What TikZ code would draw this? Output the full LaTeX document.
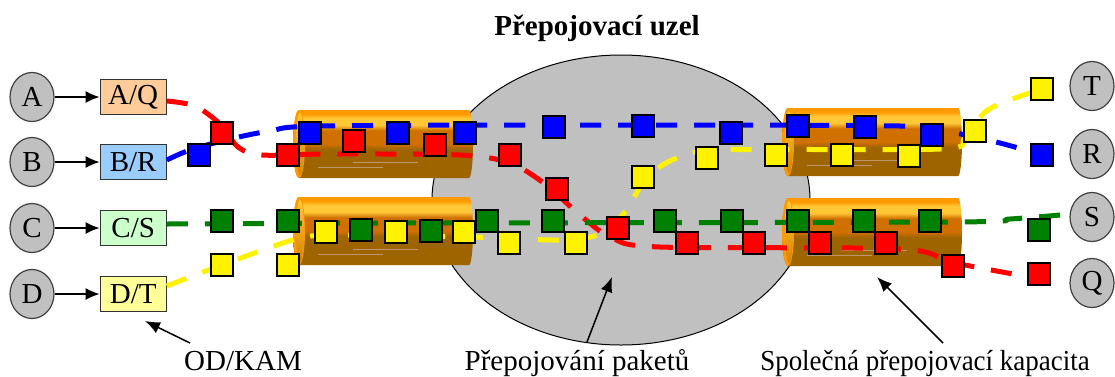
\documentclass[tikz,border=0pt]{standalone}
\usepackage{fontspec}
\setmainfont{Liberation Serif}
\usetikzlibrary{positioning, arrows.meta, shapes.geometric}

\definecolor{endgray}{RGB}{192,192,192}
\definecolor{portA}{RGB}{255,204,153}
\definecolor{portB}{RGB}{153,204,255}
\definecolor{portC}{RGB}{204,255,204}
\definecolor{portD}{RGB}{255,255,153}
\definecolor{pktgreen}{RGB}{0,128,0}
\definecolor{tubeTop}{RGB}{255,153,0}
\definecolor{tubeLight}{RGB}{255,200,55}
\definecolor{tubeMid}{RGB}{208,112,0}
\definecolor{tubeBrown}{RGB}{158,100,0}
\definecolor{tubeStreak}{RGB}{190,150,110}

% bands of the trunk cylinders, bottom to top
\pgfdeclareverticalshading{tube}{100bp}{color(0bp)=(tubeBrown); color(25bp)=(tubeBrown);
  color(46bp)=(tubeBrown); color(50bp)=(tubeMid); color(60bp)=(tubeMid);
  color(64bp)=(tubeLight); color(69bp)=(tubeLight); color(72bp)=(tubeTop); color(100bp)=(tubeTop)}

\begin{document}
\begin{tikzpicture}[
            x=1pt, y=-1pt,
            font=\fontsize{29}{31}\selectfont,
            endpt/.style = {ellipse, draw=black!75, line width=1.2pt, fill=endgray, minimum width=44pt, minimum height=49pt, inner sep=0pt},
            port/.style = {rectangle, draw=black!80, line width=1.2pt, minimum width=66pt, minimum height=35pt, inner sep=0pt},
            pkt/.style = {rectangle, draw=black, line width=1.3pt, minimum size=22pt, inner sep=0pt},
            flow/.style = {line width=5pt, dash pattern=on 21pt off 17pt},
            feed/.style = {-{Latex[length=14pt,width=12pt]}, line width=1.5pt},
            pointer/.style = {-{Latex[length=15pt,width=12pt]}, line width=1.5pt},
            streak/.style = {tubeStreak, line width=0.6pt}
        ]
            \useasboundingbox (0,0) rectangle (1115,376);

            % --- switch core ---
            \node [ellipse, draw, line width=1pt, fill=endgray, minimum width=378pt, minimum height=290pt, inner sep=0pt] (switch) at (621,200) {};
            \node [font=\bfseries\fontsize{29}{31}\selectfont, anchor=base] (title) at (597,35) {Přepojovací uzel};

            % --- trunk cylinders ---
            \foreach \xa/\ya in {293/110, 293/197, 782/108, 782/198} {
                \shade [shading=tube] (\xa+6,\ya) -- (\xa+176,\ya) arc[start angle=90, end angle=-90, x radius=4pt, y radius=34pt]
                    -- (\xa+6,\ya+68) arc[start angle=270, end angle=90, x radius=6pt, y radius=34pt] -- cycle;
                \fill [tubeTop] (\xa+6,\ya+34) ellipse[x radius=6pt, y radius=34pt];
                \shade [top color=tubeLight, bottom color=tubeTop!85!black] (\xa+7,\ya+34) ellipse[x radius=4pt, y radius=31pt];
                \draw [streak] (\xa+60,\ya+52) -- (\xa+125,\ya+52);
                \draw [streak] (\xa+25,\ya+57) -- (\xa+90,\ya+57);
            }

            % --- end points and ports ---
            \node [endpt] (a) at (32,97) {A};
            \node [endpt] (b) at (32,162) {B};
            \node [endpt] (c) at (32,228) {C};
            \node [endpt] (d) at (32,294) {D};
            \node [port, fill=portA, right=45pt of a] (aq) {A/Q};
            \node [port, fill=portB, right=45pt of b] (br) {B/R};
            \node [port, fill=portC, right=45pt of c] (cs) {C/S};
            \node [port, fill=portD, right=45pt of d] (dt) {D/T};

            \node [endpt] (t) at (1092,86) {T};
            \node [endpt] (r) at (1092,154) {R};
            \node [endpt] (s) at (1092,217) {S};
            \node [endpt] (q) at (1092,283) {Q};

            \draw [feed] (a) -- (aq);
            \draw [feed] (b) -- (br);
            \draw [feed] (c) -- (cs);
            \draw [feed] (d) -- (dt);

            % --- packets ---
            \foreach \x/\y [count=\i] in {222/133, 288/155, 354/141, 435/145, 510/155, 557/189, 618/228, 687/243, 754/243, 820/243, 886/243, 953/266, 1039/274}
                \coordinate (rp\i) at (\x,\y);
            \foreach \x/\y [count=\i] in {199/155, 310/133, 398/133, 465/133, 554/127, 643/126, 731/133, 798/126, 865/127, 932/135, 1042/155}
                \coordinate (bp\i) at (\x,\y);
            \foreach \x/\y [count=\i] in {222/221, 288/221, 361/230, 431/231, 487/221, 553/221, 665/221, 732/221, 798/221, 864/221, 930/221, 1039/230}
                \coordinate (gp\i) at (\x,\y);
            \foreach \x/\y [count=\i] in {222/265, 288/265, 326/232, 396/232, 464/232, 509/243, 576/243, 643/177, 707/158, 776/155, 842/155, 909/156, 975/131, 1042/89}
                \coordinate (yp\i) at (\x,\y);

            % --- flows through the node ---
            \draw [flow, red] plot[smooth] coordinates {([yshift=-4pt]aq.east) (195,106) (220,124) (238,147) (262,155) (330,154) (460,155) (510,163) (545,184) (580,215) (612,238) (660,247) (900,249) (955,263) ([xshift=-7pt]q.west)};
            \draw [flow, blue] plot[smooth] coordinates {([yshift=2pt]br.east) (190,150) (230,139) (270,131) (320,126) (600,125) (900,126) (950,132) (1000,143) (bp11)};
            \draw [flow, pktgreen] plot[smooth] coordinates {([yshift=4pt]cs.east) (400,223) (950,222) (1010,219) ([xshift=-9pt,yshift=2pt]s.west)};
            \draw [flow, yellow] plot[smooth] coordinates {([yshift=8pt]dt.east) (230,262) (300,238) (350,235) (470,237) (560,240) (600,234) (625,212) (645,180) (672,160) (720,150) (940,149) (965,138) (985,112) (1010,100) (yp14)};

            \foreach \i in {1,...,12} \node [pkt, fill=pktgreen] at (gp\i) {};
            \foreach \i in {1,...,13} \node [pkt, fill=red] at (rp\i) {};
            \foreach \i in {1,...,11} \node [pkt, fill=blue] at (bp\i) {};
            \foreach \i in {1,...,14} \node [pkt, fill=yellow] at (yp\i) {};

            % --- captions ---
            \node [anchor=base] (kamlbl) at (243,370) {OD/KAM};
            \node [anchor=base] (pktlbl) at (577,370) {Přepojování paketů};
            \node [anchor=base] (caplbl) at (925,370) {\scalebox{0.93}[1]{Společná přepojovací kapacita}};

            \coordinate (kamtip) at (145,321);
            \coordinate (pkttip) at (612,277);
            \coordinate (captip) at (877,277);
            \draw [pointer] ([shift={(-53,-27)}]kamlbl.base) -- (kamtip);
            \draw [pointer] ([shift={(10,-28)}]pktlbl.base) -- (pkttip);
            \draw [pointer] ([shift={(18,-27)}]caplbl.base) -- (captip);

        \end{tikzpicture}
\end{document}
